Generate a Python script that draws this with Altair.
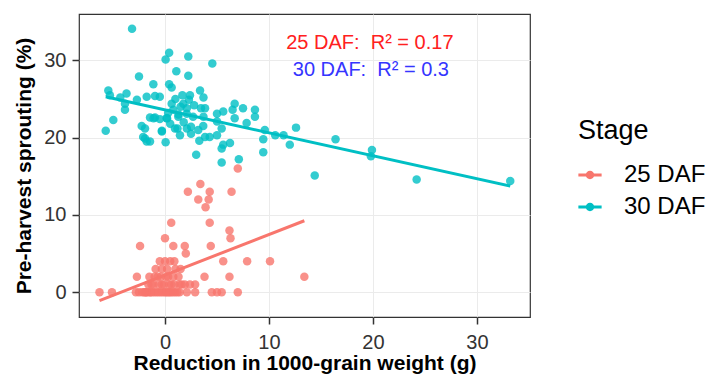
import altair as alt
import pandas as pd

# 25 DAF observations (reduction in 1000-grain weight, pre-harvest sprouting %)
x25 = [7.0, 3.4, 2.2, 4.3, 6.4, 3.2, 4.2, 3.9, 0.6, 4.3, 6.2, 6.3, 0.0, -2.4, 0.8, 1.9, 4.4, 2.0,
       5.6, 7.9, 10.1,
       -0.5, 0.0, 0.5, 0.9,
       -0.9, 0.2, 1.0, 1.5, -0.3,
       -2.7, -1.5, -1.0, -0.4, 0.3, 0.8, 1.3, 3.8, 6.2, 13.4, -0.7, 0.1,
       -1.6, -1.1, -0.6, -0.1, 0.4, 0.9, 1.4, 1.9, 2.4, 2.9, -1.3, -0.3, 0.6, 1.6,
       -6.3, -5.1, -2.8, -1.7, -1.2, -0.8, -0.4, 0.0, 0.3, 0.6, 1.0, 1.4, 2.1, 2.9, 4.5, 5.0, 5.45, 7.0,
       -2.2, -1.9, -1.45, -1.0, -0.6, -0.2, 0.15, 0.45, 0.8, 1.2, -2.5, -1.4, -1.8, -2.0]
y25 = [16, 14, 13, 13, 13, 12, 12, 11, 9, 9, 8, 7, 7, 6, 6, 6, 6, 5,
       4, 4, 4,
       4, 4, 4, 4,
       3, 3, 3, 3, 3,
       2, 2, 2, 2, 2, 2, 2, 2, 2, 2, 2, 2,
       1, 1, 1, 1, 1, 1, 1, 1, 1, 1, 1, 1, 1, 1,
       0, 0, 0, 0, 0, 0, 0, 0, 0, 0, 0, 0, 0, 0, 0, 0, 0, 0,
       0, 0, 0, 0, 0, 0, 0, 0, 0, 0, 0, 0, 0, 0]

# 30 DAF observations
x30 = [-3.17, 0.4, 0.06, 2.24, 4.55, 1.09, 2.24, -2.5, -1.12, 0.4, 0.64, -5.45, -5.3, -3.7, -4.3,
       -2.7, -1.76, -0.96, -0.5, 1.67, 2.4, 2.3, 3.37, 3.7, -3.85, -3.85, 0.64, 0.8, 1.76, 2.1,
       3.46, 3.85, 6.7, 7.5, 8.65, 8.65, 6.5, 5.6, 5.0, -4.97, -5.7, -1.44, -0.96, 0.16, 1.28,
       2.09, 2.7, 3.7, -2.24, -1.92, -0.3, 0.96, 1.44, 2.1, 2.5, 3.68, 5.0, 5.45, 6.7, 7.85,
       9.6, 10.6, 11.4, 12.6, 16.4, -2.1, -1.76, -1.44, 0.06, 3.3, 3.85, 4.3, 5.0, 9.45, 5.6,
       6.25, 5.45, 12.0, 3.0, 5.45, 7.1, 9.45, 19.9, 19.8, 14.4, 24.2, 33.2, -1.1, -0.5, 0.2,
       -1.92, -0.3, 1.2, 1.0, 1.5, 0.3, 1.8, 2.8, 3.2, 0.5, 1.3, 2.5]
y30 = [34.1, 31.0, 30.1, 30.5, 29.6, 28.6, 28.0, 27.9, 26.9, 26.9, 26.5, 26.1, 25.5, 25.7, 25.2,
       24.9, 25.3, 25.4, 25.3, 25.5, 25.5, 24.9, 26.1, 25.2, 24.4, 23.6, 24.4, 23.6, 24.4, 23.8,
       23.8, 23.8, 24.4, 23.8, 23.6, 22.7, 23.6, 23.4, 23.1, 22.3, 20.9, 22.6, 22.6, 22.5, 22.7,
       23.1, 22.7, 22.7, 21.5, 21.2, 20.9, 21.2, 20.3, 21.2, 21.4, 21.5, 22.1, 21.2, 22.5, 21.9,
       21.0, 20.3, 20.3, 21.3, 19.8, 20.1, 19.5, 19.5, 19.4, 19.6, 20.1, 20.1, 20.3, 19.8, 19.1,
       19.3, 18.6, 19.1, 17.8, 16.8, 17.2, 18.1, 18.4, 17.6, 15.1, 14.6, 14.4, 22.5, 22.4, 22.5,
       19.9, 20.8, 21.2, 25.0, 24.0, 23.2, 22.0, 24.2, 21.0, 21.8, 23.0, 20.5]

stages = ["25 DAF", "30 DAF"]
stage_colors = ["#F8766D", "#00BFC4"]

NB = "\u00a0"
ann_text = ["25 DAF:" + NB + NB + "R\u00b2 = 0.17", "30 DAF:" + NB + NB + "R\u00b2 = 0.3"]
ann_x = [19.7, 19.8]
ann_y = [32.3, 28.8]
ann_colors = ["#FF2020", "#3535FF"]

x_ticks = [0, 10, 20, 30]
y_ticks = [0, 10, 20, 30]

df = pd.DataFrame({
    "x": x25 + x30,
    "y": y25 + y30,
    "Stage": [stages[0]] * len(x25) + [stages[1]] * len(x30),
})
ann = pd.DataFrame({"x": ann_x, "y": ann_y, "label": ann_text, "col": ann_colors})

FONT = "Liberation Sans"
xscale = alt.Scale(domain=[-8.27, 35.1], nice=False, zero=False)
yscale = alt.Scale(domain=[-3.2, 36.0], nice=False, zero=False)

xaxis = alt.Axis(values=x_ticks, title="Reduction in 1000-grain weight (g)", labelFontSize=20,
                 labelPadding=8, titleFontSize=21, titleFontWeight="bold", titlePadding=0)
yaxis = alt.Axis(values=y_ticks, title="Pre-harvest sprouting (%)", labelFontSize=20,
                 labelPadding=6, titleFontSize=21, titleFontWeight="bold", titlePadding=9)

legend_symbol = ("M -1 -0.13 L 1 -0.13 L 1 0.13 L -1 0.13 Z "
                 "M 0.36 0 A 0.36 0.36 0 1 1 -0.36 0 A 0.36 0.36 0 1 1 0.36 0 Z")

color = alt.Color("Stage:N", scale=alt.Scale(domain=stages, range=stage_colors),
                  legend=alt.Legend(title="Stage", orient="none", legendX=499, legendY=104,
                                    titleFontSize=27, titleFontWeight="normal", titleColor="black",
                                    labelFontSize=24, labelColor="black", symbolType=legend_symbol,
                                    symbolSize=540, symbolOpacity=1, symbolStrokeWidth=0,
                                    labelOffset=22, rowPadding=8, titlePadding=18))

points = alt.Chart(df).mark_circle(size=72, opacity=0.8).encode(
    x=alt.X("x:Q", scale=xscale, axis=xaxis),
    y=alt.Y("y:Q", scale=yscale, axis=yaxis),
    color=color,
)

lines = alt.Chart(df).transform_regression("x", "y", groupby=["Stage"]).mark_line(strokeWidth=3).encode(
    x=alt.X("x:Q", scale=xscale),
    y=alt.Y("y:Q", scale=yscale),
    color=alt.Color("Stage:N", scale=alt.Scale(domain=stages, range=stage_colors), legend=None),
)

texts = alt.Chart(ann).mark_text(fontSize=20, font=FONT, align="center", baseline="middle").encode(
    x=alt.X("x:Q", scale=xscale),
    y=alt.Y("y:Q", scale=yscale),
    text="label:N",
    color=alt.Color("col:N", scale=None),
)

chart = alt.layer(points, lines, texts).properties(
    width=451, height=303,
    autosize=alt.AutoSizeParams(type="none"),
    padding={"left": 71, "top": 6, "right": 175, "bottom": 58},
).configure(font=FONT).configure_view(
    stroke="#333333", strokeWidth=1.2
).configure_axis(
    grid=True, gridColor="#EBEBEB", gridWidth=1, domain=False,
    tickColor="#333333", tickSize=7, tickWidth=1.5,
    labelColor="#333333", titleColor="black", labelFont=FONT, titleFont=FONT,
).configure_legend(labelFont=FONT, titleFont=FONT)

chart.save("out.html", embed_options={"renderer": "svg", "actions": False})
